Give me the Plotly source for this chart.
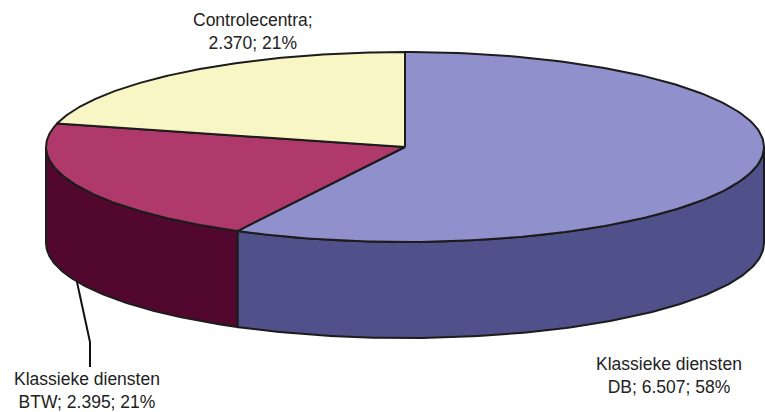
import numpy as np
import plotly.graph_objects as go

# Data
categories = ["Klassieke diensten DB", "Klassieke diensten BTW", "Controlecentra"]
label_lines = [("Klassieke diensten", "DB"), ("Klassieke diensten", "BTW"), ("Controlecentra", "")]
values = [6.507, 2.395, 2.370]
percent_labels = ["58%", "21%", "21%"]

top_colors = ["#9090CC", "#B0396B", "#F8F6C4"]
side_colors = ["#50508A", "#52082E", "#E0DCA0"]
edge_color = "#1c1c1c"

# Pie geometry (pixel space of the 765x412 canvas)
W, H = 765, 412
cx, cy = 405.0, 147.0
rx, ry = 359.0, 95.0
depth = 96.0

vals = np.array(values, dtype=float)
fracs = vals / vals.sum()
bounds = np.concatenate([[0.0], np.cumsum(fracs) * 360.0])  # clockwise from 12 o'clock


def ell(theta_deg, dy=0.0):
    t = np.radians(theta_deg)
    return cx + rx * np.sin(t), cy - ry * np.cos(t) + dy


fig = go.Figure()

# Visible outer walls (front half: 90..270 degrees)
for i in range(len(vals)):
    a0, a1 = bounds[i], bounds[i + 1]
    s, e = max(a0, 90.0), min(a1, 270.0)
    if e <= s:
        continue
    th = np.linspace(s, e, 120)
    xt, yt = ell(th)
    xb, yb = ell(th[::-1], depth)
    xs = np.concatenate([xt, xb, xt[:1]])
    ys = np.concatenate([yt, yb, yt[:1]])
    fig.add_trace(go.Scatter(x=xs, y=ys, mode="lines", fill="toself",
                             fillcolor=side_colors[i],
                             line=dict(color=edge_color, width=2),
                             hoverinfo="skip", showlegend=False))

# Top faces
for i in range(len(vals)):
    a0, a1 = bounds[i], bounds[i + 1]
    th = np.linspace(a0, a1, 200)
    xt, yt = ell(th)
    xs = np.concatenate([[cx], xt, [cx]])
    ys = np.concatenate([[cy], yt, [cy]])
    fig.add_trace(go.Scatter(x=xs, y=ys, mode="lines", fill="toself",
                             fillcolor=top_colors[i],
                             line=dict(color=edge_color, width=2),
                             hoverinfo="text", text=categories[i],
                             showlegend=False))

# Leader line for the BTW label, starting at the slice's mid-angle on the lower rim
mid_btw = (bounds[1] + bounds[2]) / 2.0
lx0, ly0 = ell(mid_btw, depth)
fig.add_trace(go.Scatter(x=[lx0, 90, 90], y=[ly0, 342, 367], mode="lines",
                         line=dict(color="#111111", width=2),
                         hoverinfo="skip", showlegend=False))


def fmt(v):
    return f"{v:.3f}"


def label_text(i):
    head, tail = label_lines[i]
    if tail:
        return f"{head}<br>{tail}; {fmt(values[i])}; {percent_labels[i]}"
    return f"{head};<br>{fmt(values[i])}; {percent_labels[i]}"


label_pos = [(668.5, 375), (87, 390), (253, 31)]
for i, (lx, ly) in enumerate(label_pos):
    fig.add_annotation(x=lx, y=ly, text=label_text(i), showarrow=False,
                       xanchor="center", yanchor="middle", align="center",
                       font=dict(family="Liberation Sans, Arial, sans-serif",
                                 size=17.5, color="#222222"))

fig.update_layout(
    width=W, height=H,
    margin=dict(l=0, r=0, t=0, b=0),
    paper_bgcolor="white", plot_bgcolor="white",
    xaxis=dict(range=[0, W], visible=False, fixedrange=True),
    yaxis=dict(range=[H, 0], visible=False, fixedrange=True),
    showlegend=False,
)

fig.write_html("out.html")
